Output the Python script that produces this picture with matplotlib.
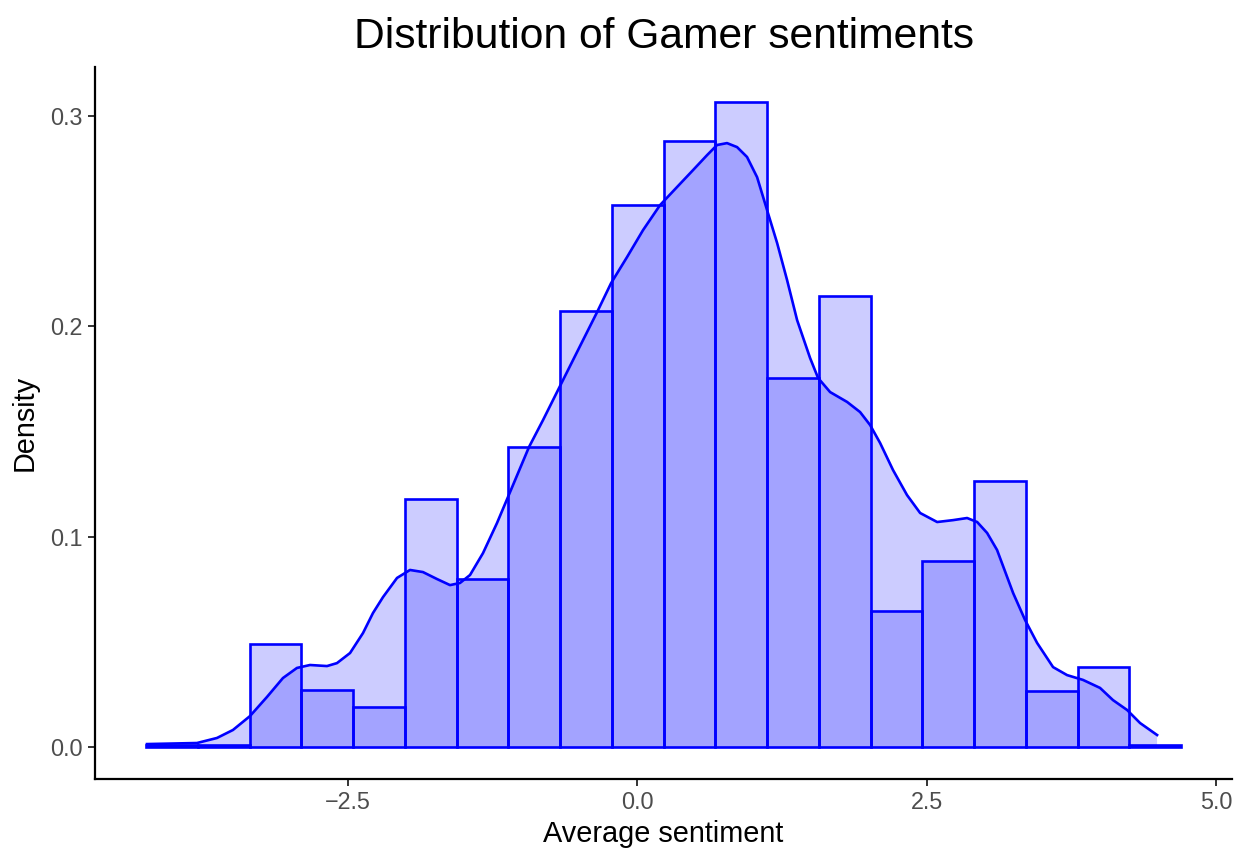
import numpy as np
import matplotlib
matplotlib.use("Agg")
import matplotlib.pyplot as plt

plt.rcParams['font.family'] = ['Liberation Sans', 'DejaVu Sans']

# histogram bins (density scale)
bin_edges = np.linspace(-4.246, 4.700, 21)
bin_density = [0.0011, 0.0011, 0.049, 0.0271, 0.019, 0.118, 0.080, 0.1427,
               0.2073, 0.2577, 0.288, 0.3067, 0.1755, 0.2145, 0.0647, 0.0884,
               0.1265, 0.0266, 0.038, 0.001]

# kernel density curve
kde_x = [-4.238, -3.806, -3.633, -3.495, -3.348, -3.201, -3.063, -2.942, -2.829,
         -2.682, -2.596, -2.483, -2.371, -2.285, -2.198, -2.077, -1.965, -1.853,
         -1.732, -1.619, -1.533, -1.446, -1.334, -1.213, -1.118, -0.936, -0.815,
         -0.668, -0.495, -0.348, -0.227, -0.089, 0.049, 0.196, 0.343, 0.482,
         0.603, 0.689, 0.775, 0.862, 0.948, 1.035, 1.121, 1.208, 1.294, 1.381,
         1.493, 1.562, 1.666, 1.813, 1.925, 2.012, 2.098, 2.210, 2.331, 2.444,
         2.591, 2.729, 2.850, 2.937, 3.023, 3.109, 3.248, 3.351, 3.455, 3.593,
         3.714, 3.852, 3.999, 4.111, 4.233, 4.345, 4.492]
kde_y = [0.0014, 0.0019, 0.0043, 0.0081, 0.0147, 0.0238, 0.0328, 0.0376, 0.039,
         0.0385, 0.0399, 0.0447, 0.0542, 0.0637, 0.0713, 0.0804, 0.0842, 0.0832,
         0.0799, 0.077, 0.078, 0.0818, 0.0922, 0.1065, 0.1189, 0.1427, 0.1555,
         0.1717, 0.1907, 0.2068, 0.2206, 0.233, 0.2458, 0.2577, 0.2663, 0.2744,
         0.2815, 0.2863, 0.2872, 0.2853, 0.2806, 0.271, 0.2554, 0.2397, 0.2221,
         0.203, 0.185, 0.1755, 0.1688, 0.1641, 0.1593, 0.1531, 0.1446, 0.1317,
         0.1198, 0.1113, 0.107, 0.1079, 0.1089, 0.107, 0.1018, 0.0937, 0.0732,
         0.0604, 0.0495, 0.038, 0.0342, 0.0319, 0.0281, 0.0223, 0.0176, 0.0114,
         0.0057]

fig = plt.figure(figsize=(12.39, 8.48), dpi=100)
ax = fig.add_axes([0.0767, 0.0814, 0.9177, 0.8396])

widths = np.diff(bin_edges)
ax.bar(bin_edges[:-1], bin_density, width=widths, align='edge',
       facecolor=(0, 0, 1, 0.2), edgecolor='blue', linewidth=1.9, zorder=2)

ax.fill_between(kde_x, kde_y, 0, facecolor=(0, 0, 1, 0.2), linewidth=0, zorder=3)
ax.plot(kde_x, kde_y, color='blue', linewidth=1.9, solid_joinstyle='round', zorder=4)

ax.set_xlim(-4.687, 5.140)
ax.set_ylim(-0.0152, 0.3234)
ax.set_xticks([-2.5, 0.0, 2.5, 5.0])
ax.set_xticklabels(['\u22122.5', '0.0', '2.5', '5.0'])
ax.set_yticks([0.0, 0.1, 0.2, 0.3])
ax.set_yticklabels(['0.0', '0.1', '0.2', '0.3'])

for side in ['top', 'right']:
    ax.spines[side].set_visible(False)
for side in ['left', 'bottom']:
    ax.spines[side].set_linewidth(1.6)
    ax.spines[side].set_color('black')

ax.tick_params(axis='both', length=5, width=1.4, color='#333333',
               labelcolor='#4D4D4D', labelsize=16.8, pad=4)

ax.set_xlabel('Average sentiment', fontsize=20.8, color='black', labelpad=4)
ax.set_ylabel('Density', fontsize=20.8, color='black', labelpad=8)
ax.set_title('Distribution of Gamer sentiments', fontsize=30.7, color='black', pad=14)

fig.savefig('out.png', dpi=100)
